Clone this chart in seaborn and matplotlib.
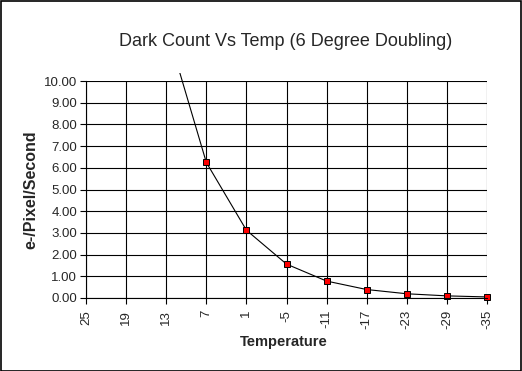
import matplotlib
matplotlib.use("Agg")
import matplotlib.pyplot as plt
import matplotlib.patches as mpatches
import seaborn as sns
import pandas as pd

# dark current doubles every 6 degrees
temps = [25, 19, 13, 7, 1, -5, -11, -17, -23, -29, -35]
dark = [50.0, 25.0, 12.5, 6.25, 3.125, 1.5625, 0.78, 0.39, 0.195, 0.098, 0.049]
yticks = [0, 1, 2, 3, 4, 5, 6, 7, 8, 9, 10]

df = pd.DataFrame({"Temperature": temps, "Dark": dark})

sns.set_style("white")
plt.rcParams['font.family'] = ['Liberation Sans', 'DejaVu Sans']

fig = plt.figure(figsize=(5.22, 3.71), dpi=100)
ax = fig.add_axes([86/522, 1 - 298/371, (487 - 86)/522, (298 - 81)/371])

sns.lineplot(data=df, x="Temperature", y="Dark", ax=ax, color="black", linewidth=0.8,
             marker="s", markersize=5, markerfacecolor="#ff0000", markeredgecolor="black",
             markeredgewidth=0.7)

ax.set_xlim(25, -35)
ax.set_ylim(0, 10)
ax.set_xticks(temps)
ax.set_xticklabels([str(t) for t in temps], rotation=90, fontsize=9.5)
ax.set_yticks(yticks)
ax.set_yticklabels([f"{v:.2f}" for v in yticks], fontsize=9.5)
ax.tick_params(axis="both", direction="out", length=4.5, width=0.8, color="black",
               left=True, bottom=True, pad=2)
ax.tick_params(axis="x", pad=4)
ax.grid(True, color="black", linewidth=0.8)
ax.set_axisbelow(True)
for side in ["top", "right"]:
    ax.spines[side].set_visible(False)
for side in ["left", "bottom"]:
    ax.spines[side].set_color("black")
    ax.spines[side].set_linewidth(0.8)

# let the curve run a little above the top gridline, like the original
clip = mpatches.Rectangle((25.6, -0.5), -61.2, 10.85, transform=ax.transData,
                          facecolor="none", edgecolor="none")
ax.add_patch(clip)
for ln in ax.lines:
    ln.set_clip_path(clip)

ax.set_xlabel("")
ax.set_ylabel("")
fig.text(286/522, 1 - 42/371, "Dark Count Vs Temp (6 Degree Doubling)", fontsize=13,
         ha="center", va="center")
fig.text(284/522, 1 - 342/371, "Temperature", fontsize=10.5, fontweight="bold",
         ha="center", va="center")
fig.text(31/522, 1 - 190/371, "e-/Pixel/Second", fontsize=11.5, fontweight="bold",
         rotation=90, ha="center", va="center")

fig.patches.append(mpatches.Rectangle((0.001, 0.001), 0.997, 0.996, transform=fig.transFigure,
                                      fill=False, edgecolor="black", linewidth=1.2))

fig.savefig("out.png", dpi=100)
